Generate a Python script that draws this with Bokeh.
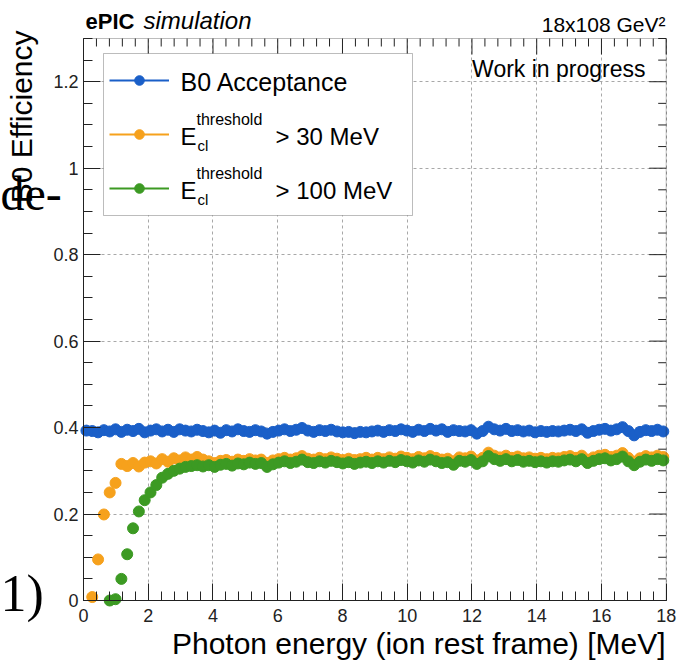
import math
from bokeh.plotting import figure
from bokeh.models import (Range1d, FixedTicker, Label, Legend, LegendItem,
                          ColumnDataSource, BoxAnnotation, Grid)
from bokeh.embed import file_html
from bokeh.resources import INLINE

nan = float("nan")

# ---------------- data ----------------
e_min, e_max, n_bins = 0.0, 18.0, 100
bin_width = (e_max - e_min) / n_bins
energy = [round(e_min + bin_width * (i + 0.5), 3) for i in range(n_bins)]

b0_acceptance = [
    0.393, 0.392, 0.389, 0.394, 0.391, 0.396, 0.390, 0.395, 0.392, 0.397,
    0.389, 0.393, 0.396, 0.391, 0.395, 0.390, 0.396, 0.393, 0.391, 0.395,
    0.392, 0.389, 0.393, 0.388, 0.394, 0.391, 0.396, 0.392, 0.390, 0.394,
    0.391, 0.386, 0.390, 0.393, 0.396, 0.392, 0.395, 0.399, 0.393, 0.390,
    0.394, 0.392, 0.395, 0.391, 0.389, 0.390, 0.387, 0.390, 0.389, 0.391,
    0.393, 0.390, 0.394, 0.392, 0.396, 0.393, 0.390, 0.395, 0.392, 0.397,
    0.393, 0.396, 0.390, 0.394, 0.392, 0.391, 0.394, 0.386, 0.392, 0.402,
    0.396, 0.393, 0.397, 0.392, 0.394, 0.391, 0.393, 0.389, 0.392, 0.390,
    0.392, 0.391, 0.393, 0.395, 0.392, 0.396, 0.388, 0.392, 0.395, 0.397,
    0.393, 0.396, 0.401, 0.392, 0.382, 0.390, 0.394, 0.392, 0.395, 0.391,
]

eff_30mev = [
    nan,   0.008, 0.095, 0.199, 0.250, 0.272, 0.316, 0.311, 0.318, 0.310,
    0.319, 0.322, 0.317, 0.327, 0.321, 0.329, 0.324, 0.331, 0.326, 0.332,
    0.326, 0.322, 0.318, 0.323, 0.325, 0.321, 0.326, 0.323, 0.327, 0.324,
    0.326, 0.318, 0.324, 0.327, 0.330, 0.326, 0.329, 0.334, 0.328, 0.326,
    0.330, 0.327, 0.331, 0.328, 0.325, 0.328, 0.325, 0.327, 0.330, 0.326,
    0.330, 0.327, 0.331, 0.328, 0.333, 0.330, 0.327, 0.332, 0.329, 0.334,
    0.330, 0.326, 0.328, 0.322, 0.331, 0.329, 0.333, 0.324, 0.330, 0.342,
    0.335, 0.331, 0.335, 0.330, 0.333, 0.329, 0.331, 0.328, 0.330, 0.327,
    0.330, 0.329, 0.332, 0.334, 0.330, 0.335, 0.326, 0.331, 0.335, 0.337,
    0.332, 0.335, 0.341, 0.330, 0.321, 0.329, 0.334, 0.331, 0.335, 0.332,
]

eff_100mev = [
    nan,   nan,   nan,   nan,   0.000, 0.003, 0.050, 0.107, 0.167, 0.206,
    0.232, 0.250, 0.267, 0.284, 0.293, 0.300, 0.305, 0.309, 0.311, 0.313,
    0.310, 0.313, 0.309, 0.314, 0.316, 0.312, 0.317, 0.315, 0.319, 0.316,
    0.318, 0.309, 0.315, 0.319, 0.322, 0.318, 0.321, 0.326, 0.320, 0.318,
    0.322, 0.319, 0.323, 0.320, 0.317, 0.320, 0.316, 0.319, 0.321, 0.318,
    0.322, 0.319, 0.323, 0.320, 0.325, 0.322, 0.319, 0.324, 0.321, 0.326,
    0.322, 0.318, 0.320, 0.314, 0.323, 0.321, 0.325, 0.316, 0.322, 0.334,
    0.327, 0.323, 0.327, 0.322, 0.325, 0.321, 0.323, 0.320, 0.322, 0.319,
    0.322, 0.321, 0.324, 0.326, 0.322, 0.327, 0.318, 0.323, 0.327, 0.329,
    0.324, 0.327, 0.333, 0.322, 0.313, 0.321, 0.326, 0.323, 0.327, 0.324,
]

x_major = [0, 2, 4, 6, 8, 10, 12, 14, 16, 18]
y_major = [0, 0.2, 0.4, 0.6, 0.8, 1.0, 1.2]
y_tick_labels = ["0", "0.2", "0.4", "0.6", "0.8", "1", "1.2"]
x_minor = [round(0.4 * k, 2) for k in range(46)]
y_minor = [round(0.05 * k, 3) for k in range(27)]

series_names = ["B0 Acceptance", "E", "E"]
thresholds = ["> 30 MeV", "> 100 MeV"]
colors = ["#1a5fc8", "#f6a11c", "#3c9a23"]

# ---------------- geometry ----------------
W, H = 679, 664
X0, X1, Y0, Y1 = 0.0, 18.0, 0.0, 1.3          # plotted data window
PX0, PX1, PY0, PY1 = 83.0, 665.7, 600.0, 38.0  # its pixel box on the canvas
SX = (PX1 - PX0) / (X1 - X0)
SY = (PY0 - PY1) / (Y1 - Y0)
def dx(px):
    return X0 + (px - PX0) / SX
def dy(py):
    return Y0 + (PY0 - py) / SY

p = figure(width=W, height=H, output_backend="svg", toolbar_location=None,
           x_range=Range1d(dx(0), dx(W)), y_range=Range1d(dy(H), dy(0)),
           min_border=0, outline_line_color=None,
           background_fill_color="white", border_fill_color="white")

FONT = "Liberation Sans"
INK = "#222222"
xt = FixedTicker(ticks=x_major, minor_ticks=x_minor)
yt = FixedTicker(ticks=y_major, minor_ticks=y_minor)

for ax in (p.xaxis[0], p.yaxis[0]):
    ax.major_label_text_font = FONT
    ax.major_label_text_font_size = "18px"
    ax.major_label_text_color = INK
    ax.major_tick_in = 17
    ax.major_tick_out = 0
    ax.minor_tick_in = 9
    ax.minor_tick_out = 0
    ax.axis_line_color = INK
    ax.major_tick_line_color = INK
    ax.minor_tick_line_color = INK
p.xaxis[0].ticker = xt
p.yaxis[0].ticker = yt
p.xaxis[0].fixed_location = Y0
p.yaxis[0].fixed_location = X0
p.xaxis[0].bounds = (X0, X1)
p.yaxis[0].bounds = (Y0, Y1)
p.xaxis[0].major_label_standoff = 8
p.yaxis[0].major_label_standoff = 5
p.yaxis[0].major_label_overrides = {v: s for v, s in zip(y_major, y_tick_labels)}

has_cross = "cross_bounds" in Grid.properties()
p.xgrid.ticker = xt
p.ygrid.ticker = yt
p.xgrid[0].bounds = (X0, X1)
p.ygrid[0].bounds = (Y0, Y1)
for g, cb in ((p.xgrid[0], (Y0, Y1)), (p.ygrid[0], (X0, X1))):
    g.grid_line_color = "#a8a8a8"
    g.grid_line_dash = "3 3"
    g.grid_line_width = 1
    if has_cross:
        g.cross_bounds = cb
if not has_cross:
    p.xgrid.visible = False
    p.ygrid.visible = False
    p.segment(x0=x_major, y0=[Y0] * len(x_major), x1=x_major, y1=[Y1] * len(x_major),
              line_color="#a8a8a8", line_dash="3 3", line_width=1)
    p.segment(x0=[X0] * len(y_major), y0=y_major, x1=[X1] * len(y_major), y1=y_major,
              line_color="#a8a8a8", line_dash="3 3", line_width=1)

# ticks on the top and right frame edges (inward), taken from the tick lists
x_minor_only = [v for v in x_minor if v not in x_major]
y_minor_only = [v for v in y_minor if min(abs(v - m) for m in y_major) > 1e-6]
p.segment(x0=x_major, y0=[Y1] * len(x_major), x1=x_major,
          y1=[Y1 - 16 / SY] * len(x_major), line_color=INK, line_width=1)
p.segment(x0=x_minor_only, y0=[Y1] * len(x_minor_only), x1=x_minor_only,
          y1=[Y1 - 8 / SY] * len(x_minor_only), line_color=INK, line_width=1)
p.segment(x0=[X1] * len(y_major), y0=y_major, x1=[X1 - 17 / SX] * len(y_major),
          y1=y_major, line_color=INK, line_width=1)
p.segment(x0=[X1] * len(y_minor_only), y0=y_minor_only,
          x1=[X1 - 8 / SX] * len(y_minor_only), y1=y_minor_only,
          line_color=INK, line_width=1)

# ---------------- data marks ----------------
src = ColumnDataSource(dict(energy=energy, b0=b0_acceptance,
                            e30=eff_30mev, e100=eff_100mev))

items = []
for col, c in zip(["b0", "e30", "e100"], colors):
    ln = p.line("energy", col, source=src, line_color=c, line_width=2, visible=False)
    sc = p.scatter("energy", col, source=src, size=11, fill_color=c, line_color=c)
    items.append(LegendItem(label="", renderers=[ln, sc]))

p.add_layout(BoxAnnotation(left=X0, right=X1, bottom=Y0, top=Y1,
                           fill_alpha=0, line_color=INK, line_width=1))

# legend frame (drawn as a box so its texts can sit on top of it)
p.add_layout(BoxAnnotation(left=dx(103), right=dx(412), top=dy(53), bottom=dy(215),
                           fill_color="white", fill_alpha=1.0,
                           line_color=INK, line_width=1))

# ---------------- texts ----------------
BASE = 0.36  # renderer places the alphabetic baseline this many em lower

def lab(text, px, py, size, align="left", style="normal", angle=0.0,
        font=FONT, color="black"):
    if angle == 0.0:
        py = py - BASE * size
    else:
        px = px - BASE * size
    p.add_layout(Label(x=dx(px), y=dy(py), text=text, text_font=font,
                       text_font_size=f"{size}px", text_align=align,
                       text_font_style=style, angle=angle, text_color=color,
                       text_baseline="alphabetic"))

lab(series_names[0], 180, 90, 25)
for k, thr in enumerate(thresholds):
    off = 54 * k
    lab(series_names[k + 1], 180, 145 + off, 24)
    lab("threshold", 196, 125 + off, 16)
    lab("cl", 197, 150 + off, 15)
    lab(thr, 275, 145 + off, 24)

lab("ePIC", 85, 29, 22, style="bold")
lab("simulation", 143, 29, 24, style="italic")
lab("18x108 GeV\u00b2", 665, 32, 21, align="right")
lab("Work in progress", 645, 77, 23, align="right")
lab("Photon energy (ion rest frame) [MeV]", 665, 654, 30, align="right")
lab("B0 Efficiency", 32, 30, 30, align="right", angle=math.pi / 2)

# background fragments visible in the reference
lab("de-", 0, 210, 48, font="Liberation Serif")
lab("1)", 0, 612, 52, font="Liberation Serif")

# legend samples (line + marker), transparent so the texts show through
glyph_h, spacing, pad = 24, 30, 6
leg_h = 2 * pad + 3 * glyph_h + 2 * spacing
leg_top = 82 - glyph_h / 2 - pad - 8
legend = Legend(items=items, location=(109, H - leg_top - leg_h),
                orientation="vertical", padding=pad, spacing=spacing,
                glyph_width=60, glyph_height=glyph_h, label_height=glyph_h,
                label_width=200, label_standoff=11, label_text_font_size="1px",
                border_line_color=None, background_fill_alpha=0.0, margin=0)
p.add_layout(legend, "center")

open("out.html", "w").write(file_html(p, INLINE))
